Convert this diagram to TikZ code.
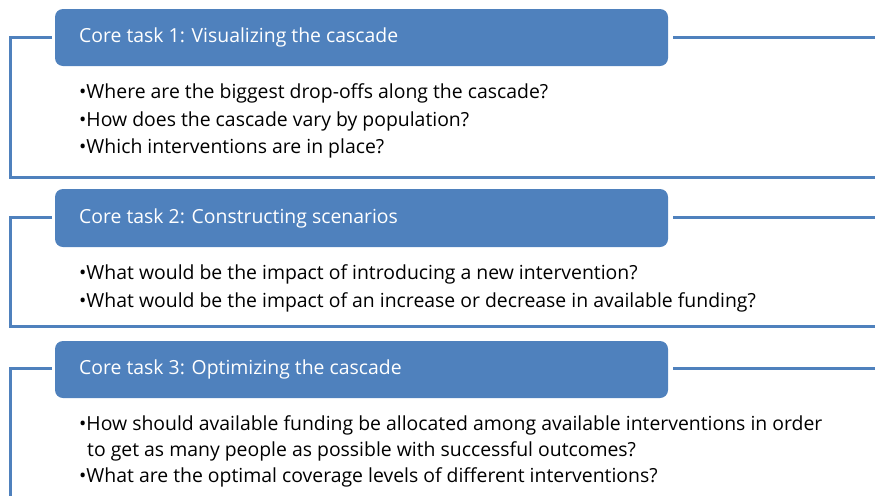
\documentclass[tikz,border=0pt]{standalone}
\usepackage{fontspec}
\setmainfont{Open Sans}
\definecolor{cblue}{HTML}{4F81BD}
\begin{document}
\begin{tikzpicture}[x=1pt,y=-1pt,
  hdr/.style={fill=cblue,rounded corners=8pt,inner sep=0pt},
  hdrtext/.style={anchor=base west,text=white,font=\fontsize{19.4}{22}\selectfont,inner sep=0pt},
  body/.style={anchor=base west,text=black,font=\fontsize{19.4}{22}\selectfont,inner sep=0pt},
  conn/.style={draw=cblue,line width=3pt}]
\useasboundingbox (0,0) rectangle (875,496);
% headers
\path[hdr] (55,9) rectangle (668,66);
\path[hdr] (55,189) rectangle (668,247);
\path[hdr] (55,341) rectangle (668,398);
\coordinate (h1l) at (52,37); \coordinate (h1r) at (673,37);
\coordinate (h2l) at (52,217); \coordinate (h2r) at (673,217);
\coordinate (h3l) at (52,368); \coordinate (h3r) at (673,368);
\coordinate (c1) at (10,37); \coordinate (c1b) at (10,177); \coordinate (e1) at (875,177); \coordinate (r1) at (875,37);
\coordinate (c2) at (10,217); \coordinate (c2b) at (10,326); \coordinate (e2) at (875,326); \coordinate (r2) at (875,217);
\coordinate (c3) at (10,368); \coordinate (c3b) at (10,496); \coordinate (r3) at (875,368);
\draw[conn] (h1l) -- (c1) -- (c1b) -- (e1);
\draw[conn] (h1r) -- (r1);
\draw[conn] (h2l) -- (c2) -- (c2b) -- (e2);
\draw[conn] (h2r) -- (r2);
\draw[conn] (h3l) -- (c3) -- (c3b);
\draw[conn] (h3r) -- (r3);
\node[hdrtext] (t1) at (79,42) {Core task 1: Visualizing the cascade};
\node[hdrtext] (t2) at (79,223) {Core task 2: Constructing scenarios};
\node[hdrtext] (t3) at (79,374) {Core task 3: Optimizing the cascade};
\node[body] (a1) at (79,98) {•Where are the biggest drop-offs along the cascade?};
\node[body] (a2) at (79,126) {•How does the cascade vary by population?};
\node[body] (a3) at (79,153) {•Which interventions are in place?};
\node[body] (b1) at (79,279) {•What would be the impact of introducing a new intervention?};
\node[body] (b2) at (79,307) {•What would be the impact of an increase or decrease in available funding?};
\node[body] (d1) at (79,430) {•How should available funding be allocated among available interventions in order};
\node[body] (d2) at (87,456) {to get as many people as possible with successful outcomes?};
\node[body] (d3) at (79,482) {•What are the optimal coverage levels of different interventions?};
\end{tikzpicture}
\end{document}
